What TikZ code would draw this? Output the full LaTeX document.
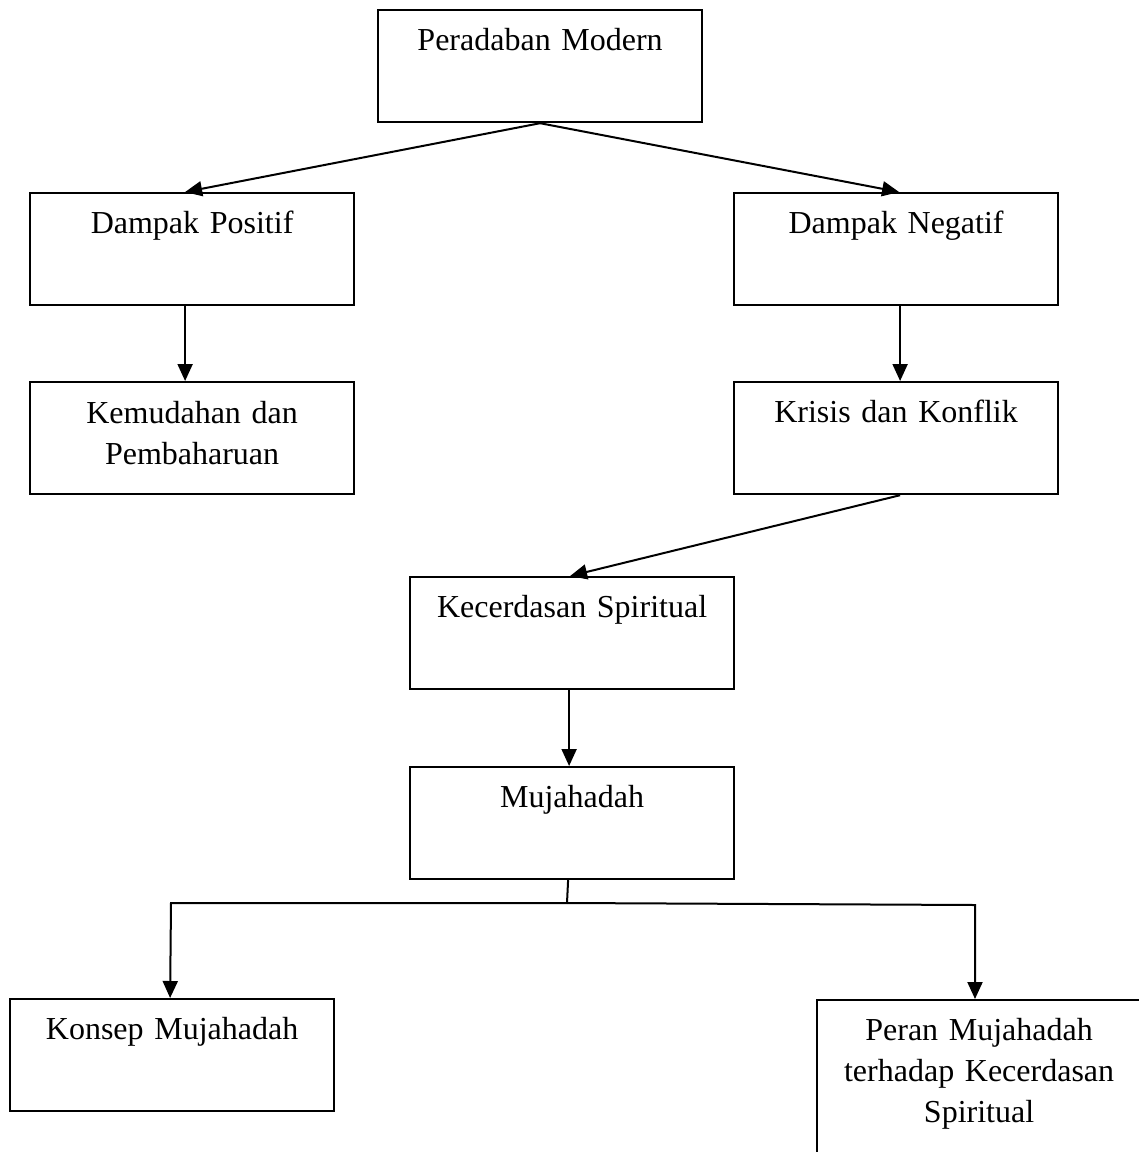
\documentclass[tikz,border=0pt]{standalone}
\usepackage{fontspec}
\setmainfont{Liberation Serif}
\usetikzlibrary{arrows.meta}
\begin{document}
\begin{tikzpicture}[x=1pt,y=-1pt,
  box/.style={draw, line width=2.2pt, minimum width=324pt, minimum height=112pt, inner sep=0pt, anchor=north west},
  lbl/.style={font=\fontsize{32}{41}\selectfont, inner sep=0pt, anchor=base, text width=330pt, align=center},
  arr/.style={line width=2pt, -{Triangle[length=17pt,width=15pt]}},
  ln/.style={line width=2pt}]
\useasboundingbox (0,0) rectangle (1139,1152);
\clip (0,0) rectangle (1139,1152);
\fill[white] (0,0) rectangle (1139,1152);
% boxes
\node[box] (pm) at (377,9) {};
\node[box] (dp) at (29,192) {};
\node[box] (dn) at (733,192) {};
\node[box] (km) at (29,381) {};
\node[box] (kk) at (733,381) {};
\node[box] (ks) at (409,576) {};
\node[box] (mj) at (409,766) {};
\node[box] (kmj) at (9,998) {};
\node[box, minimum width=330pt, minimum height=180pt] (pr) at (816,999) {};
% labels
\node[lbl] (pmt) at ([yshift=-41pt]pm.north) {Peradaban Modern};
\node[lbl] (dpt) at ([yshift=-41pt]dp.north) {Dampak Positif};
\node[lbl] (dnt) at ([yshift=-41pt]dn.north) {Dampak Negatif};
\node[lbl] (kmt) at ([yshift=-42pt]km.north) {Kemudahan dan\\Pembaharuan};
\node[lbl] (kkt) at ([yshift=-41pt]kk.north) {Krisis dan Konflik};
\node[lbl] (kst) at ([yshift=-41pt]ks.north) {Kecerdasan Spiritual};
\node[lbl] (mjt) at ([yshift=-41pt]mj.north) {Mujahadah};
\node[lbl] (kmjt) at ([yshift=-41pt]kmj.north) {Konsep Mujahadah};
\node[lbl] (prt) at ([xshift=-3pt,yshift=-41pt]pr.north) {Peran Mujahadah\\terhadap Kecerdasan\\Spiritual};
% connectors
\draw[arr] (pm.south) -- ([xshift=-7pt]dp.north);
\draw[arr] (pm.south) -- ([xshift=3pt]dn.north);
\draw[arr] ([xshift=-7pt]dp.south) -- ([xshift=-7pt]km.north);
\draw[arr] ([xshift=4pt]dn.south) -- ([xshift=4pt]kk.north);
\draw[arr] ([xshift=4pt]kk.south) -- ([xshift=-2pt]ks.north);
\draw[arr] ([xshift=-3pt]ks.south) -- ([xshift=-3pt]mj.north);
\coordinate (jl) at (171,903);
\coordinate (jm) at (567,903);
\coordinate (jr) at (975,905);
\draw[ln] ([xshift=-4pt]mj.south) -- (jm);
\draw[arr] (jm) -- (jl) -- ([xshift=-2pt]kmj.north);
\draw[arr] (jm) -- (jr) -- (jr |- pr.north);
\end{tikzpicture}
\end{document}
